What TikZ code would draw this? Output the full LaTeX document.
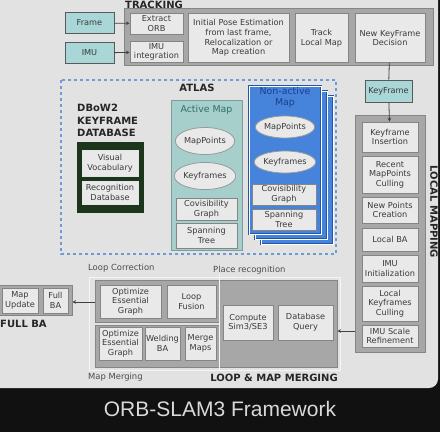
\documentclass[tikz,border=0pt]{standalone}
\usepackage{fontspec}
\setmainfont{DejaVu Sans}
\newfontfamily\capfont{Liberation Sans}
\usepackage{xcolor}
\usepackage{tikz}
\usetikzlibrary{arrows.meta, positioning, shapes.geometric}
\definecolor{fondo}{HTML}{E2E2E2}
\definecolor{barra}{HTML}{111111}
\definecolor{bloque}{HTML}{A7A7A7}
\definecolor{borde}{HTML}{858585}
\definecolor{caja}{HTML}{E9E9E9}
\definecolor{texto}{HTML}{3A3A3A}
\definecolor{turquesa}{HTML}{A9D6D6}
\definecolor{activo}{HTML}{A6CFCB}
\definecolor{activob}{HTML}{7E9E9A}
\definecolor{activot}{HTML}{2F6E6A}
\definecolor{azul}{HTML}{4584DA}
\definecolor{azulb}{HTML}{2356A8}
\definecolor{azult}{HTML}{1C3F8C}
\definecolor{atlas}{HTML}{6E9BD6}
\definecolor{verde}{HTML}{1C361C}
\tikzset{
  every picture/.style={>=Stealth},
  blk/.style={fill=bloque, draw=borde, line width=1pt},
  inbox/.style={draw=borde, fill=caja, line width=0.9pt, text=texto, inner sep=0pt,
                font=\fontsize{8.2}{9.6}\selectfont, align=center},
  feed/.style={inbox, fill=turquesa, draw=gray!70!black},
  ell/.style={ellipse, draw=gray!80, fill=caja, line width=0.8pt, text=texto, inner sep=0pt,
              minimum width=58pt, minimum height=27pt, font=\fontsize{8.2}{9.6}\selectfont},
  layer/.style={fill=azul, draw=azulb, double=white, double distance=0.8pt, line width=0.8pt},
  hdr/.style={font=\fontsize{10}{12.6}\selectfont\bfseries, text=black!85, inner sep=0pt},
  sub/.style={font=\fontsize{8.4}{9.6}\selectfont, text=gray!60!black, inner sep=0pt},
  maplbl/.style={font=\fontsize{9.4}{10.4}\selectfont, inner sep=0pt, align=center},
  flecha/.style={-{Stealth[length=3.5pt,width=3.5pt]}, line width=0.8pt, black!75},
  linea/.style={line width=0.8pt, black!75},
}

\begin{document}
\begin{tikzpicture}[x=1pt, y=-1pt]
  \useasboundingbox (0,0) rectangle (440,432);
  \fill[barra] (0,0) rectangle (440,432);
  \fill[fondo, rounded corners=9pt] (-12,-12) rectangle (438,388);
  \node[text=gray!30, font=\capfont\fontsize{21}{25}\selectfont] (cap) at (220,409) {ORB-SLAM3 Framework};

  % tracking
  \node[blk, minimum width=309pt, minimum height=57pt] (trk) at (278.5,36.5) {};
  \node[hdr, anchor=base west] (trkl) at (125,8.5) {TRACKING};
  \node[feed, minimum width=49pt, minimum height=21pt] (frame) at (89.5,23) {Frame};
  \node[feed, minimum width=49pt, minimum height=21pt] (imu) at (89.5,53) {IMU};
  \node[inbox, minimum width=53pt, minimum height=21pt] (orb) at (156.5,23.5) {Extract\\ORB};
  \node[inbox, minimum width=53pt, minimum height=21pt] (imuint) at (156.5,52) {IMU\\integration};
  \node[inbox, minimum width=101pt, minimum height=49pt] (pose) at (238.5,38) {Initial Pose Estimation\\from last frame,\\Relocalization or\\Map creation};
  \node[inbox, minimum width=53pt, minimum height=49pt] (tlm) at (321.5,38) {Track\\Local Map};
  \node[inbox, minimum width=70pt, minimum height=49pt] (nkf) at (390,38) {New KeyFrame\\Decision};
  \draw[flecha] (frame) -- (orb);
  \draw[flecha] (imu) -- (imuint);

  % local mapping
  \node[feed, minimum width=47pt, minimum height=22pt] (kf) at (388.5,91) {KeyFrame};
  \node[blk, minimum width=70pt, minimum height=237pt] (lm) at (390,233.5) {};
  \node[hdr, rotate=-90] (lml) at (434,212) {LOCAL MAPPING};
  \node[inbox, minimum width=56pt, minimum height=30pt] (ins) at (390,137) {Keyframe\\Insertion};
  \node[inbox, minimum width=56pt, minimum height=37pt] (cull) at (390,174.5) {Recent\\MapPoints\\Culling};
  \node[inbox, minimum width=56pt, minimum height=26pt] (npc) at (390,210) {New Points\\Creation};
  \node[inbox, minimum width=56pt, minimum height=23pt] (lba) at (390,239.5) {Local BA};
  \node[inbox, minimum width=56pt, minimum height=27pt] (imuinit) at (390,268.5) {IMU\\Initialization};
  \node[inbox, minimum width=56pt, minimum height=35pt] (lkc) at (390,303.5) {Local\\Keyframes\\Culling};
  \node[inbox, minimum width=56pt, minimum height=22pt] (isr) at (390,336) {IMU Scale\\Refinement};
  \draw[linea] (nkf) -- (kf);
  \draw[flecha] (kf) -- (ins);

  % atlas
  \draw[atlas, line width=1.3pt, dash pattern=on 3pt off 3pt] (61,80) rectangle (336,254);
  \node[hdr] (atl) at (197,88) {ATLAS};
  \node[hdr, anchor=north west, align=left] (dbl) at (77,104) {DBoW2\\KEYFRAME\\DATABASE};
  \node[fill=verde, draw=verde, line width=1pt, minimum width=66pt, minimum height=70pt] (db) at (110,177) {};
  \node[inbox, draw=white!80!gray, minimum width=56pt, minimum height=26pt] (voc) at (110,163) {Visual\\Vocabulary};
  \node[inbox, draw=white!80!gray, minimum width=56pt, minimum height=23pt] (rdb) at (110,192.5) {Recognition\\Database};

  \node[fill=activo, draw=activob, line width=1pt, minimum width=71pt, minimum height=150pt] (am) at (206.5,175) {};
  \node[maplbl, text=activot] (aml) at (206.5,110) {Active Map};
  \node[ell] (mp1) at (205,141) {MapPoints};
  \node[ell] (kf1) at (205,176) {Keyframes};
  \node[inbox, minimum width=61pt, minimum height=22pt] (cov1) at (206.5,209) {Covisibility\\Graph};
  \node[inbox, minimum width=61pt, minimum height=25pt] (sp1) at (206.5,235.5) {Spanning\\Tree};

  \node[layer, minimum width=72pt, minimum height=148pt] (na3) at (297,170) {};
  \node[layer, minimum width=72pt, minimum height=148pt] (na2) at (291,165) {};
  \node[layer, minimum width=72pt, minimum height=148pt] (na1) at (285,160) {};
  \node[maplbl, text=azult] (nal) at (285,97.5) {Non-active\\Map};
  \node[ell, minimum width=52pt, minimum height=22pt] (mp2) at (285,127) {MapPoints};
  \node[ell, minimum width=52pt, minimum height=22pt] (kf2) at (285,162) {Keyframes};
  \node[inbox, minimum width=64pt, minimum height=21pt] (cov2) at (284,194.5) {Covisibility\\Graph};
  \node[inbox, minimum width=64pt, minimum height=21pt] (sp2) at (284,219.5) {Spanning\\Tree};

  % loop and map merging
  \draw[white!65!fondo, line width=0.8pt] (89,277) rectangle (340,370);
  \node[blk, minimum width=118pt, minimum height=87pt] (pr) at (278,323.5) {};
  \node[blk, minimum width=124pt, minimum height=42pt] (lc) at (157,301) {};
  \node[blk, minimum width=124pt, minimum height=42pt] (mg) at (157,346) {};
  \draw[white!60!fondo, line width=0.8pt] (219,274) -- (219,370);
  \node[sub, anchor=west] (lcl) at (88,268) {Loop Correction};
  \node[sub, anchor=west] (prl) at (213,270) {Place recognition};
  \node[sub, anchor=west] (mgl) at (88,377.5) {Map Merging};
  \node[hdr, anchor=east] (lmml) at (338,377.5) {LOOP \& MAP MERGING};
  \node[inbox, minimum width=61pt, minimum height=33pt] (oeg1) at (130.5,301.5) {Optimize\\Essential\\Graph};
  \node[inbox, minimum width=49pt, minimum height=33pt] (lf) at (191.5,301.5) {Loop\\Fusion};
  \node[inbox, minimum width=43pt, minimum height=33pt] (oeg2) at (120.5,343.5) {Optimize\\Essential\\Graph};
  \node[inbox, minimum width=35pt, minimum height=33pt] (wba) at (162.5,343.5) {Welding\\BA};
  \node[inbox, minimum width=31pt, minimum height=33pt] (mm) at (200.5,343.5) {Merge\\Maps};
  \node[inbox, minimum width=50pt, minimum height=35pt] (sim) at (248,322.5) {Compute\\Sim3/SE3};
  \node[inbox, minimum width=55pt, minimum height=35pt] (dbq) at (305.5,322.5) {Database\\Query};
  \draw[flecha] (lm.west |- 0,331) -- (pr.east |- 0,331);

  % full BA
  \node[blk, minimum width=74pt, minimum height=30pt] (fba) at (35,300) {};
  \node[inbox, minimum width=36pt, minimum height=25pt] (mu) at (20,300.5) {Map\\Update};
  \node[inbox, minimum width=25pt, minimum height=25pt] (fb) at (55.5,300.5) {Full\\BA};
  \node[hdr, anchor=west] (fbl) at (0,324) {FULL BA};
  \draw[flecha] (lc.west |- 0,302) -- (fba.east |- 0,302);
\end{tikzpicture}
\end{document}
